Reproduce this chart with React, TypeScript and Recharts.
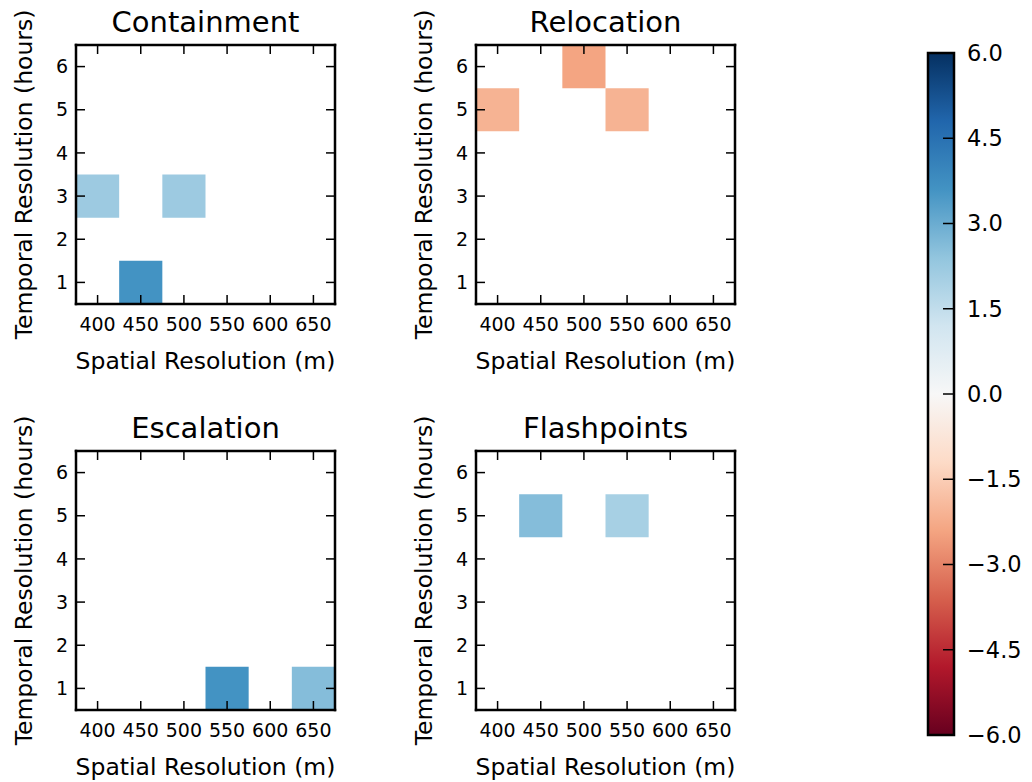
import { ScatterChart, XAxis, YAxis, ReferenceArea, Label } from 'recharts';

// grid of the parameter sweep
const spatialRes = [400, 450, 500, 550, 600, 650];
const temporalRes = [1, 2, 3, 4, 5, 6];

// non-empty cells per regime: spatial res (m), temporal res (h), score
const containment = [
  { m: 400, h: 3, v: 2.2 },
  { m: 500, h: 3, v: 2.2 },
  { m: 450, h: 1, v: 3.6 },
];
const relocation = [
  { m: 500, h: 6, v: -2.4 },
  { m: 400, h: 5, v: -2.1 },
  { m: 550, h: 5, v: -2.1 },
];
const escalation = [
  { m: 550, h: 1, v: 3.6 },
  { m: 650, h: 1, v: 2.6 },
];
const flashpoints = [
  { m: 450, h: 5, v: 2.6 },
  { m: 550, h: 5, v: 2.0 },
];

const colorbarTicks = [-6, -4.5, -3, -1.5, 0, 1.5, 3, 4.5, 6];
const VMIN = -6;
const VMAX = 6;

// ColorBrewer RdBu, low -> high
const RDBU = ['#67001f', '#b2182b', '#d6604d', '#f4a582', '#fddbc7', '#f7f7f7', '#d1e5f0', '#92c5de', '#4393c3', '#2166ac', '#053061'];

const hex = (h: string) => [1, 3, 5].map(i => parseInt(h.slice(i, i + 2), 16));
function rdbu(v: number) {
  const t = Math.min(1, Math.max(0, (v - VMIN) / (VMAX - VMIN)));
  const p = t * (RDBU.length - 1);
  const i = Math.min(Math.floor(p), RDBU.length - 2);
  const f = p - i;
  const a = hex(RDBU[i]);
  const b = hex(RDBU[i + 1]);
  const c = a.map((x, k) => Math.round(x + (b[k] - x) * f));
  return `rgb(${c[0]},${c[1]},${c[2]})`;
}

const halfX = (spatialRes[1] - spatialRes[0]) / 2;
const halfY = (temporalRes[1] - temporalRes[0]) / 2;
const xDomain: [number, number] = [spatialRes[0] - halfX, spatialRes[spatialRes.length - 1] + halfX];
const yDomain: [number, number] = [temporalRes[0] - halfY, temporalRes[temporalRes.length - 1] + halfY];

const frame = { stroke: '#000', strokeWidth: 2.5, strokeLinecap: 'square' as const };
const tickLn = { stroke: '#000', strokeWidth: 1.5 };
const tickTxt = { fill: '#000', fontSize: 19 };
const blank = () => '';

function Panel({ title, cells, left, top }: { title: string; cells: { m: number; h: number; v: number }[]; left: number; top: number }) {
  return (
    <div style={{ position: 'absolute', left, top }}>
      <ScatterChart width={355} height={384} margin={{ top: 44, right: 19, bottom: 0, left: 0 }}>
        {cells.map(c => (
          <ReferenceArea
            key={`${c.m}-${c.h}`}
            x1={c.m - halfX}
            x2={c.m + halfX}
            y1={c.h - halfY}
            y2={c.h + halfY}
            fill={rdbu(c.v)}
            fillOpacity={1}
            stroke="none"
          />
        ))}
        <XAxis type="number" dataKey="m" domain={xDomain} ticks={spatialRes} interval={0} allowDataOverflow
          height={80} tickSize={-9} tickMargin={23} axisLine={frame} tickLine={tickLn} tick={tickTxt}>
          <Label value="Spatial Resolution (m)" position="insideBottom" offset={15} fontSize={23.5} fill="#000" />
        </XAxis>
        <XAxis xAxisId="top" orientation="top" type="number" dataKey="m" domain={xDomain} ticks={spatialRes} interval={0} allowDataOverflow
          height={1} tickSize={-9} axisLine={frame} tickLine={tickLn} tickFormatter={blank}>
          <Label value={title} position="top" offset={12} fontSize={29} fill="#000" />
        </XAxis>
        <YAxis type="number" dataKey="h" domain={yDomain} ticks={temporalRes} interval={0} allowDataOverflow
          width={76} tickSize={-9} tickMargin={17} axisLine={frame} tickLine={tickLn} tick={tickTxt}>
          <Label value="Temporal Resolution (hours)" angle={-90} position="center" dx={-14.5} fontSize={23.5} fill="#000" />
        </YAxis>
        <YAxis yAxisId="right" orientation="right" type="number" dataKey="h" domain={yDomain} ticks={temporalRes} interval={0} allowDataOverflow
          width={1} tickSize={-9} axisLine={frame} tickLine={tickLn} tickFormatter={blank} />
      </ScatterChart>
    </div>
  );
}

function Colorbar() {
  return (
    <div style={{ position: 'absolute', left: 900, top: 0 }}>
      <ScatterChart width={132} height={782} margin={{ top: 53, right: 0, bottom: 47, left: 28 }}>
        <defs>
          <linearGradient id="rdbu" x1="0" y1="0" x2="0" y2="1">
            {RDBU.slice().reverse().map((c, i) => (
              <stop key={c} offset={i / (RDBU.length - 1)} stopColor={c} />
            ))}
          </linearGradient>
        </defs>
        <ReferenceArea x1={0} x2={1} y1={VMIN} y2={VMAX} fill="url(#rdbu)" fillOpacity={1} stroke="#000" strokeWidth={2.5} />
        <XAxis type="number" dataKey="x" domain={[0, 1]} allowDataOverflow hide />
        <YAxis orientation="right" type="number" dataKey="v" domain={[VMIN, VMAX]} ticks={colorbarTicks} interval={0} allowDataOverflow
          width={78} axisLine={false} tickSize={-11} tickMargin={24} tickLine={tickLn}
          tick={{ fill: '#000', fontSize: 22.5 }}
          tickFormatter={(v: number) => (v < 0 ? '\u2212' : '') + Math.abs(v).toFixed(1)} />
      </ScatterChart>
    </div>
  );
}

export default function App() {
  return (
    <div style={{ position: 'absolute', left: 0, top: 0, width: 1032, height: 782, overflow: 'hidden', background: '#fff', fontFamily: '"DejaVu Sans", sans-serif' }}>
      <Panel title="Containment" cells={containment} left={0} top={0} />
      <Panel title="Relocation" cells={relocation} left={400} top={0} />
      <Panel title="Escalation" cells={escalation} left={0} top={406} />
      <Panel title="Flashpoints" cells={flashpoints} left={400} top={406} />
      <Colorbar />
    </div>
  );
}
